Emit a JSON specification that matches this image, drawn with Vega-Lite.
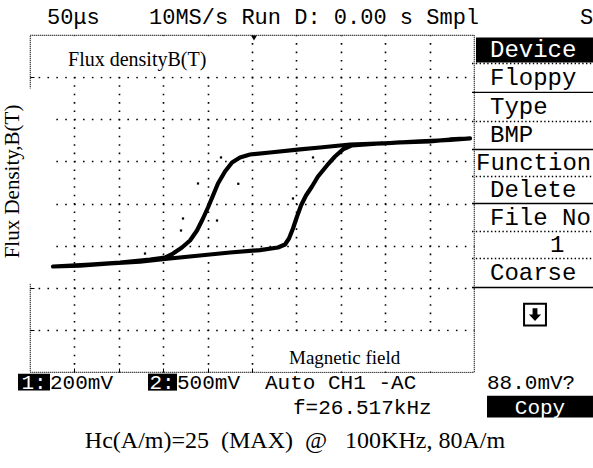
{
  "$schema": "https://vega.github.io/schema/vega-lite/v6.json",
  "width": 444,
  "height": 337,
  "autosize": {"type": "none"},
  "padding": {"left": 30, "top": 35, "right": 119, "bottom": 96},
  "background": "white",
  "config": {"view": {"stroke": "black", "strokeDash": [1, 1], "strokeWidth": 1.2}},
  "datasets": {
    "loop": [
      {"i": 1, "x": 4.910, "y": 1.544}, {"i": 2, "x": 4.459, "y": 1.520}, {"i": 3, "x": 4.009, "y": 1.473},
      {"i": 4, "x": 3.333, "y": 1.449}, {"i": 5, "x": 2.950, "y": 1.425}, {"i": 6, "x": 2.207, "y": 1.401},
      {"i": 7, "x": 1.532, "y": 1.330}, {"i": 8, "x": 1.081, "y": 1.283}, {"i": 9, "x": 0.405, "y": 1.211},
      {"i": 10, "x": -0.045, "y": 1.164}, {"i": 11, "x": -0.270, "y": 1.093}, {"i": 12, "x": -0.450, "y": 0.974},
      {"i": 13, "x": -0.608, "y": 0.760}, {"i": 14, "x": -0.766, "y": 0.475}, {"i": 15, "x": -0.878, "y": 0.190},
      {"i": 16, "x": -0.991, "y": -0.095}, {"i": 17, "x": -1.104, "y": -0.356}, {"i": 18, "x": -1.239, "y": -0.641},
      {"i": 19, "x": -1.396, "y": -0.879}, {"i": 20, "x": -1.577, "y": -1.045}, {"i": 21, "x": -1.779, "y": -1.188},
      {"i": 22, "x": -1.959, "y": -1.283}, {"i": 23, "x": -2.297, "y": -1.330}, {"i": 24, "x": -2.973, "y": -1.401},
      {"i": 25, "x": -3.649, "y": -1.449}, {"i": 26, "x": -4.482, "y": -1.496}, {"i": 27, "x": -3.874, "y": -1.473},
      {"i": 28, "x": -3.198, "y": -1.425}, {"i": 29, "x": -2.523, "y": -1.378}, {"i": 30, "x": -1.959, "y": -1.318},
      {"i": 31, "x": -1.171, "y": -1.235}, {"i": 32, "x": -0.495, "y": -1.164}, {"i": 33, "x": 0.180, "y": -1.105},
      {"i": 34, "x": 0.586, "y": -1.045}, {"i": 35, "x": 0.743, "y": -0.974}, {"i": 36, "x": 0.833, "y": -0.831},
      {"i": 37, "x": 0.923, "y": -0.594}, {"i": 38, "x": 1.014, "y": -0.309}, {"i": 39, "x": 1.104, "y": -0.048},
      {"i": 40, "x": 1.216, "y": 0.190}, {"i": 41, "x": 1.351, "y": 0.404}, {"i": 42, "x": 1.486, "y": 0.641},
      {"i": 43, "x": 1.689, "y": 0.903}, {"i": 44, "x": 1.869, "y": 1.116}, {"i": 45, "x": 2.050, "y": 1.283},
      {"i": 46, "x": 2.252, "y": 1.378}, {"i": 47, "x": 2.883, "y": 1.425}, {"i": 48, "x": 3.784, "y": 1.473},
      {"i": 49, "x": 4.459, "y": 1.508}, {"i": 50, "x": 4.910, "y": 1.544}
    ],
    "noise": [
      {"x": -1.216, "y": 0.475}, {"x": -0.309, "y": 0.468}, {"x": -1.554, "y": -0.356},
      {"x": -0.788, "y": -0.404}, {"x": -1.599, "y": -0.641}, {"x": 0.923, "y": 0.119},
      {"x": 1.374, "y": 1.093}, {"x": -2.410, "y": -1.188}, {"x": -0.698, "y": 1.093}
    ],
    "masks": [
      {"x": -4.932, "x2": -0.270, "y": 3.017, "y2": 3.967},
      {"x": -5.676, "x2": -4.482, "y": -1.900, "y2": 2.732},
      {"x": 0.225, "x2": 4.955, "y": -3.990, "y2": -3.040}
    ],
    "boxes": [
      {"x": 5.045, "x2": 7.680, "y": 3.349, "y2": 3.943},
      {"x": 5.293, "x2": 7.680, "y": -5.083, "y2": -4.561},
      {"x": -5.270, "x2": -4.550, "y": -4.442, "y2": -4.039},
      {"x": -2.342, "x2": -1.689, "y": -4.442, "y2": -4.039}
    ],
    "seps": [
      {"x": 4.955, "x2": 7.680, "y": 3.325, "kind": "dotted"},
      {"x": 4.955, "x2": 7.680, "y": 2.637, "kind": "solid"},
      {"x": 4.955, "x2": 7.680, "y": 1.948, "kind": "dotted"},
      {"x": 4.955, "x2": 7.680, "y": 1.283, "kind": "solid"},
      {"x": 4.955, "x2": 7.680, "y": 0.641, "kind": "dotted"},
      {"x": 4.955, "x2": 7.680, "y": 0.0, "kind": "solid"},
      {"x": 4.955, "x2": 7.680, "y": -0.665, "kind": "dotted"},
      {"x": 4.955, "x2": 7.680, "y": -1.306, "kind": "dotted"},
      {"x": 4.955, "x2": 7.680, "y": -1.995, "kind": "solid"}
    ],
    "labels": [
      {"g": "scope", "x": -4.617, "y": 4.418, "text": "50μs"},
      {"g": "scope", "x": -2.320, "y": 4.418, "text": "10MS/s Run D: 0.00 s Smpl"},
      {"g": "scope", "x": 7.387, "y": 4.418, "text": "S"},
      {"g": "menuInv", "x": 5.360, "y": 3.634, "text": "Device"},
      {"g": "menu", "x": 5.360, "y": 2.981, "text": "Floppy"},
      {"g": "menu", "x": 5.360, "y": 2.280, "text": "Type"},
      {"g": "menu", "x": 5.360, "y": 1.615, "text": "BMP"},
      {"g": "menu", "x": 5.045, "y": 0.962, "text": "Function"},
      {"g": "menu", "x": 5.360, "y": 0.309, "text": "Delete"},
      {"g": "menu", "x": 5.360, "y": -0.333, "text": "File No"},
      {"g": "menu", "x": 6.712, "y": -0.986, "text": "1"},
      {"g": "menu", "x": 5.360, "y": -1.639, "text": "Coarse"},
      {"g": "status", "x": -4.550, "y": -4.252, "text": "200mV"},
      {"g": "status", "x": -1.689, "y": -4.252, "text": "500mV"},
      {"g": "status", "x": 0.293, "y": -4.252, "text": "Auto CH1 -AC"},
      {"g": "status", "x": 5.293, "y": -4.252, "text": "88.0mV?"},
      {"g": "status", "x": 0.923, "y": -4.846, "text": "f=26.517kHz"},
      {"g": "statusInv", "x": -4.910, "y": -4.252, "text": "1:"},
      {"g": "statusInv", "x": -2.027, "y": -4.252, "text": "2:"},
      {"g": "statusInv", "x": 6.486, "y": -4.846, "text": "Copy"},
      {"g": "serif", "x": -4.144, "y": 3.397, "text": "Flux densityB(T)"},
      {"g": "ytitle", "x": -5.383, "y": 0.523, "text": "Flux Density,B(T)"},
      {"g": "xtitle", "x": 0.833, "y": -3.658, "text": "Magnetic field"},
      {"g": "caption", "x": 0.968, "y": -5.629, "text": "Hc(A/m)=25\u00a0\u00a0(MAX)\u00a0\u00a0@\u00a0\u00a0\u00a0100KHz,\u00a080A/m"}
    ],
    "icons": [
      {"x": 6.374, "y": -2.637, "kind": "frame"},
      {"x": 0.045, "y": 3.93, "kind": "trigger"}
    ]
  },
  "encoding": {
    "x": {
      "field": "x", "type": "quantitative",
      "scale": {"domain": [-5, 5], "nice": false, "zero": false},
      "axis": {
        "title": null, "values": [-4, -3, -2, -1, 0, 1, 2, 3, 4], "labels": false, "domain": false,
        "ticks": true, "tickSize": -4, "tickColor": "black", "tickWidth": 1,
        "grid": true, "gridColor": "black", "gridOpacity": 1, "gridWidth": 1.6,
        "gridDash": [1.6, 6.82], "gridDashOffset": 0.8
      }
    },
    "y": {
      "field": "y", "type": "quantitative",
      "scale": {"domain": [-4, 4], "nice": false, "zero": false},
      "axis": {
        "title": null, "values": [-3, -2, -1, 0, 1, 2, 3], "labels": false, "domain": false,
        "ticks": true, "tickSize": -4, "tickColor": "black", "tickWidth": 1,
        "grid": true, "gridColor": "black", "gridOpacity": 1, "gridWidth": 1.6,
        "gridDash": [1.6, 7.28], "gridDashOffset": 0.8
      }
    }
  },
  "layer": [
    {
      "data": {"name": "masks"},
      "mark": {"type": "rect", "fill": "white", "stroke": null},
      "encoding": {"x2": {"field": "x2"}, "y2": {"field": "y2"}}
    },
    {
      "data": {"name": "boxes"},
      "mark": {"type": "rect", "fill": "black", "stroke": null},
      "encoding": {"x2": {"field": "x2"}, "y2": {"field": "y2"}}
    },
    {
      "data": {"name": "seps"},
      "mark": {"type": "rule", "color": "black", "strokeWidth": 1.4},
      "encoding": {
        "x2": {"field": "x2"},
        "strokeDash": {"field": "kind", "type": "nominal", "scale": {"domain": ["dotted", "solid"], "range": [[1.4, 2.4], [1, 0]]}, "legend": null}
      }
    },
    {
      "data": {"name": "loop"},
      "mark": {"type": "line", "color": "black", "strokeWidth": 4.2, "strokeJoin": "round", "strokeCap": "round"},
      "encoding": {"order": {"field": "i", "type": "quantitative"}}
    },
    {
      "data": {"name": "noise"},
      "mark": {"type": "square", "size": 5, "color": "black", "opacity": 1}
    },
    {
      "data": {"name": "icons"},
      "transform": [{"filter": "datum.kind === 'frame'"}],
      "mark": {"type": "point", "shape": "square", "size": 480, "filled": false, "stroke": "black", "strokeWidth": 2, "opacity": 1}
    },
    {
      "data": {"name": "icons"},
      "transform": [{"filter": "datum.kind === 'frame'"}],
      "mark": {"type": "point", "shape": "M-0.3,-0.8L0.3,-0.8L0.3,0L0.75,0L0,0.8L-0.75,0L-0.3,0Z", "size": 260, "filled": true, "color": "black", "opacity": 1}
    },
    {
      "data": {"name": "icons"},
      "transform": [{"filter": "datum.kind === 'trigger'"}],
      "mark": {"type": "point", "shape": "triangle-down", "size": 35, "filled": true, "color": "black", "opacity": 1}
    },
    {
      "data": {"name": "labels"},
      "transform": [{"filter": "datum.g === 'scope'"}],
      "mark": {"type": "text", "font": "Liberation Mono", "fontSize": 22, "align": "left", "baseline": "middle", "color": "black"},
      "encoding": {"text": {"field": "text"}}
    },
    {
      "data": {"name": "labels"},
      "transform": [{"filter": "datum.g === 'menu'"}],
      "mark": {"type": "text", "font": "Liberation Mono", "fontSize": 24, "align": "left", "baseline": "middle", "color": "black"},
      "encoding": {"text": {"field": "text"}}
    },
    {
      "data": {"name": "labels"},
      "transform": [{"filter": "datum.g === 'menuInv'"}],
      "mark": {"type": "text", "font": "Liberation Mono", "fontSize": 24, "align": "left", "baseline": "middle", "color": "white"},
      "encoding": {"text": {"field": "text"}}
    },
    {
      "data": {"name": "labels"},
      "transform": [{"filter": "datum.g === 'status'"}],
      "mark": {"type": "text", "font": "Liberation Mono", "fontSize": 21, "align": "left", "baseline": "middle", "color": "black"},
      "encoding": {"text": {"field": "text"}}
    },
    {
      "data": {"name": "labels"},
      "transform": [{"filter": "datum.g === 'statusInv'"}],
      "mark": {"type": "text", "font": "Liberation Mono", "fontSize": 21, "align": "center", "baseline": "middle", "color": "white"},
      "encoding": {"text": {"field": "text"}}
    },
    {
      "data": {"name": "labels"},
      "transform": [{"filter": "datum.g === 'serif'"}],
      "mark": {"type": "text", "font": "Liberation Serif", "fontSize": 20, "align": "left", "baseline": "middle", "color": "black"},
      "encoding": {"text": {"field": "text"}}
    },
    {
      "data": {"name": "labels"},
      "transform": [{"filter": "datum.g === 'ytitle'"}],
      "mark": {"type": "text", "font": "Liberation Serif", "fontSize": 21, "angle": 270, "align": "center", "baseline": "middle", "color": "black"},
      "encoding": {"text": {"field": "text"}}
    },
    {
      "data": {"name": "labels"},
      "transform": [{"filter": "datum.g === 'xtitle'"}],
      "mark": {"type": "text", "font": "Liberation Serif", "fontSize": 19, "align": "left", "baseline": "middle", "color": "black"},
      "encoding": {"text": {"field": "text"}}
    },
    {
      "data": {"name": "labels"},
      "transform": [{"filter": "datum.g === 'caption'"}],
      "mark": {"type": "text", "font": "Liberation Serif", "fontSize": 24, "align": "center", "baseline": "middle", "color": "black"},
      "encoding": {"text": {"field": "text"}}
    }
  ]
}
